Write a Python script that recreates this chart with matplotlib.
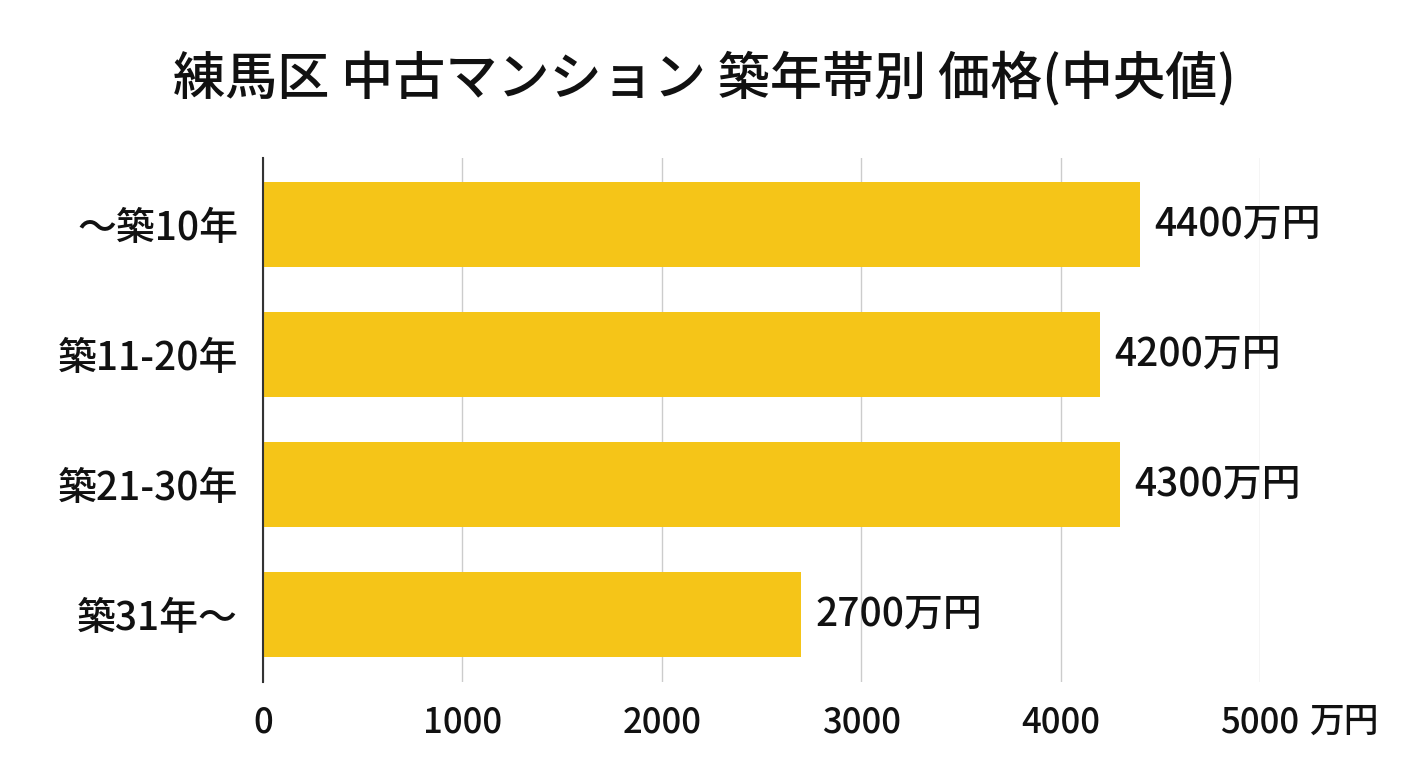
import matplotlib.pyplot as plt
from matplotlib.transforms import blended_transform_factory

plt.rcParams['font.family'] = ['Noto Sans CJK JP', 'DejaVu Sans']

# data
categories = ['〜築10年', '築11-20年', '築21-30年', '築31年〜']
prices = [4400, 4200, 4300, 2700]  # 万円
x_ticks = [0, 1000, 2000, 3000, 4000, 5000]
title = '練馬区 中古マンション 築年帯別 価格(中央値)'
unit = '万円'

fig = plt.figure(figsize=(14.08, 7.68), dpi=100)
ax = fig.add_axes([0.1868, 0.112, 0.7081, 0.6823])

ypos = list(range(len(categories)))
ax.barh(ypos, prices, height=0.654, color='#F5C518', zorder=2)

for y, v in zip(ypos, prices):
    ax.annotate(f'{v}{unit}', xy=(v, y), xytext=(10, 0), textcoords='offset points',
                va='center', ha='left', fontsize=28, fontweight='medium', color='#111111')

ax.set_xlim(0, 5000)
ax.set_ylim(3.52, -0.51)
ax.set_yticks(ypos)
ax.set_yticklabels(categories, fontsize=28, fontweight='medium', color='#111111')
ax.set_xticks(x_ticks)
ax.set_xticklabels([str(t) for t in x_ticks], fontsize=25, fontweight='medium', color='#111111')
ax.tick_params(axis='both', length=0)
ax.tick_params(axis='y', pad=18)
ax.tick_params(axis='x', pad=16)

# unit after last tick
trans = blended_transform_factory(ax.transData, ax.transAxes)
ax.annotate(unit, xy=(x_ticks[-1], 0), xycoords=trans, xytext=(35, -16),
            textcoords='offset points', ha='left', va='top', fontsize=25,
            fontweight='medium', color='#111111')

ax.grid(axis='x', color='#cccccc', linewidth=1, zorder=0)
for s in ['top', 'right', 'bottom']:
    ax.spines[s].set_visible(False)
ax.spines['left'].set_color('#333333')
ax.spines['left'].set_linewidth(1.5)
ax.spines['left'].set_zorder(3)

fig.text(0.5, 0.897, title, ha='center', va='center', fontsize=37.5, fontweight='medium', color='#111111')

fig.savefig('out.png', dpi=100, facecolor='white')
